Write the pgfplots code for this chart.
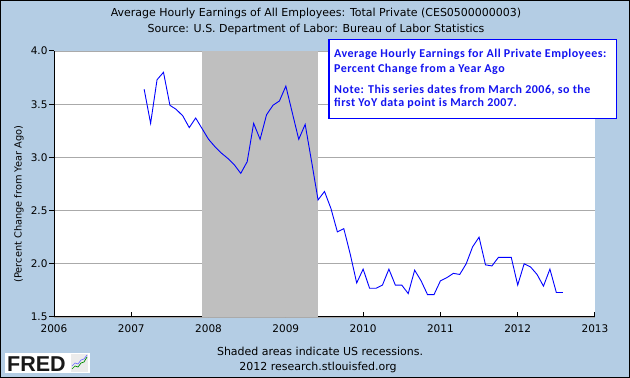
\documentclass[border=0pt]{standalone}
\usepackage{pgfplots}
\pgfplotsset{compat=1.18}
\usepackage{fontspec}
\setmainfont{DejaVu Sans}
\newfontfamily\carlito[LetterSpace=4]{Carlito}
\newfontfamily\libsans{Liberation Sans}
\definecolor{fredbg}{RGB}{180,205,228}
\definecolor{recess}{RGB}{191,191,191}
\definecolor{gridc}{RGB}{170,170,170}
\definecolor{noteblue}{RGB}{20,20,240}
\pgfplotstableread{
x y
2007.1667 3.64
2007.25 3.32
2007.3333 3.73
2007.4167 3.80
2007.5 3.49
2007.5833 3.45
2007.6667 3.39
2007.75 3.28
2007.8333 3.37
2007.9167 3.27
2008.0 3.17
2008.0833 3.10
2008.1667 3.04
2008.25 2.99
2008.3333 2.93
2008.4167 2.85
2008.5 2.96
2008.5833 3.32
2008.6667 3.17
2008.75 3.40
2008.8333 3.49
2008.9167 3.53
2009.0 3.67
2009.0833 3.42
2009.1667 3.17
2009.25 3.31
2009.3333 2.96
2009.4167 2.60
2009.5 2.68
2009.5833 2.52
2009.6667 2.30
2009.75 2.33
2009.8333 2.09
2009.9167 1.82
2010.0 1.95
2010.0833 1.77
2010.1667 1.77
2010.25 1.80
2010.3333 1.95
2010.4167 1.80
2010.5 1.80
2010.5833 1.72
2010.6667 1.94
2010.75 1.84
2010.8333 1.71
2010.9167 1.71
2011.0 1.84
2011.0833 1.87
2011.1667 1.91
2011.25 1.90
2011.3333 2.00
2011.4167 2.16
2011.5 2.25
2011.5833 1.99
2011.6667 1.98
2011.75 2.06
2011.8333 2.06
2011.9167 2.06
2012.0 1.80
2012.0833 2.00
2012.1667 1.97
2012.25 1.90
2012.3333 1.79
2012.4167 1.95
2012.5 1.73
2012.5833 1.73
}\earnings
\begin{document}
\begin{tikzpicture}
\fill[fredbg] (0pt,0pt) rectangle (630pt,378pt);
\draw[black, line width=1pt] (0.5pt,0.5pt) rectangle (629.5pt,377.5pt);
\begin{axis}[
  at={(54pt,61pt)}, anchor=south west,
  width=541pt, height=266pt, scale only axis,
  xmin=2006, xmax=2013, ymin=1.5, ymax=4.0,
  axis x line*=bottom, axis y line*=left,
  axis line style={black, line width=1pt},
  axis background/.style={fill=white},
  xtick={2006,2007,...,2013},
  ytick={1.5,2.0,2.5,3.0,3.5,4.0},
  ymajorgrids, grid style={gridc, line width=0.9pt},
  tick align=outside,
  major tick length=5pt,
  x tick style={black, line width=1pt, yshift=5pt},
  y tick style={black, line width=1pt},
  /pgf/number format/assume math mode=true,
  xticklabel={\pgfmathprintnumber[set thousands separator={},fixed,precision=0]{\tick}},
  yticklabel={\pgfmathprintnumber[fixed,fixed zerofill,precision=1]{\tick}},
  tick label style={font=\fontsize{10.5}{12}\selectfont},
  yticklabel style={xshift=2pt},
  xticklabel style={yshift=0.5pt},
  clip=true,
]
\fill[recess] (axis cs:2007.9167,1.5) rectangle (axis cs:2009.4167,4.0);
\addplot[color=blue, line width=0.9pt, mark=none] table[x=x,y=y] {\earnings};
\end{axis}
% titles
\node[anchor=base, font=\fontsize{11}{13}\selectfont] at (316pt,361pt) {Average Hourly Earnings of All Employees: Total Private (CES0500000003)};
\node[anchor=base, font=\fontsize{11}{13}\selectfont] at (316pt,345pt) {Source: U.S. Department of Labor: Bureau of Labor Statistics};
\node[rotate=90, font=\fontsize{9.8}{12}\selectfont] at (19pt,174pt) {(Percent Change from Year Ago)};
\node[anchor=base, font=\fontsize{11}{13}\selectfont] at (320pt,22pt) {Shaded areas indicate US recessions.};
\node[anchor=base, font=\fontsize{11}{13}\selectfont] at (318pt,7pt) {2012 research.stlouisfed.org};
% note box
\draw[blue, line width=1.3pt, fill=white] (329pt,259.5pt) rectangle (616.5pt,338.5pt);
\begin{scope}[every node/.style={anchor=base west, text=noteblue, inner sep=0pt, font=\carlito\bfseries\fontsize{12}{14}\selectfont}]
\node at (334pt,320pt) {Average Hourly Earnings for All Private Employees:};
\node at (334pt,305pt) {Percent Change from a Year Ago};
\node at (334pt,284pt) {Note: This series dates from March 2006, so the};
\node at (334pt,271pt) {first YoY data point is March 2007.};
\end{scope}
% FRED logo
\fill[white] (5pt,4.7pt) rectangle (90pt,25.3pt);
\node[anchor=base west, inner sep=0pt, text=black!90, font=\libsans\bfseries\fontsize{21.5}{22}\selectfont] at (7pt,6.3pt) {FRED};
\fill[black!8] (71pt,6pt) rectangle (88pt,24pt);
\draw[green!55!black, line width=0.7pt] (72pt,9pt) -- (75pt,12pt) -- (78pt,11pt) -- (81pt,15pt) -- (84pt,16pt) -- (87pt,21pt);
\draw[blue!55, line width=0.7pt] (72pt,12pt) -- (75pt,15pt) -- (78pt,14pt) -- (81pt,18pt) -- (84pt,19pt) -- (87pt,23pt);
\end{tikzpicture}
\end{document}
